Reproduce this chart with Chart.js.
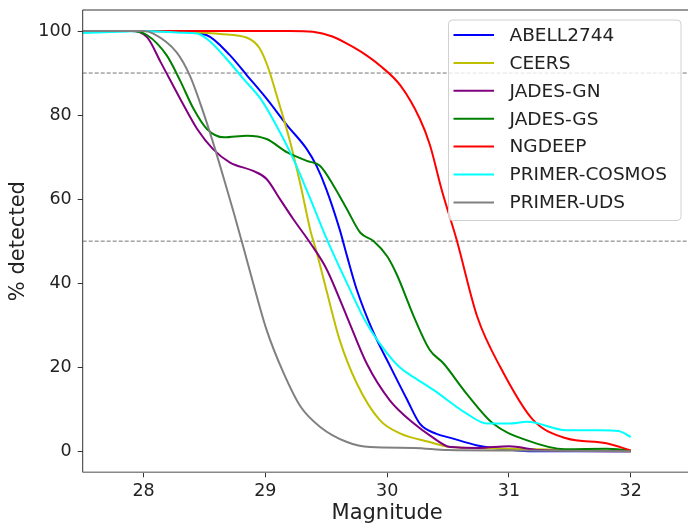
<!DOCTYPE html>
<html>
<head>
<meta charset="utf-8">
<script src="https://cdn.jsdelivr.net/npm/chart.js@4.4.1/dist/chart.umd.min.js"></script>
<style>
  html, body { margin: 0; padding: 0; background: #fff; overflow: hidden; }
  #wrap { width: 700px; height: 524px; }
</style>
</head>
<body>
<div id="wrap"><canvas id="c" width="700" height="524"></canvas></div>
<script>
// Completeness curves per field
const fields = ['ABELL2744', 'CEERS', 'JADES-GN', 'JADES-GS', 'NGDEEP', 'PRIMER-COSMOS', 'PRIMER-UDS'];
const colors = ['#0000ff', '#bfbf00', '#800080', '#008000', '#ff0000', '#00ffff', '#808080'];

const magABELL = [27.5, 28.0, 28.3, 28.52, 28.71, 28.85, 29.01, 29.18, 29.34, 29.42, 29.5, 29.61, 29.67, 29.75, 29.89, 30.02, 30.16, 30.27, 30.4, 30.52, 30.74, 31.0, 31.2, 32.0];
const pctABELL = [100, 100, 99.8, 99, 94.2, 89.4, 83.9, 77.5, 71.9, 67.9, 62.4, 52.8, 46.5, 38.5, 28.1, 20.5, 12.5, 6.5, 4.2, 3.2, 1.4, 0.4, 0, 0];

const magCEERS = [27.5, 28.0, 28.5, 28.63, 28.85, 28.95, 29.02, 29.1, 29.2, 29.29, 29.37, 29.42, 29.5, 29.61, 29.75, 29.94, 30.11, 30.35, 30.52, 31.0, 31.5, 32.0];
const pctCEERS = [100, 100, 99.6, 99.3, 98.4, 96, 91.5, 84, 74, 63.2, 52.5, 47.5, 38.5, 26.5, 16.2, 7.4, 4.2, 2.2, 1.0, 0.6, 0.3, 0];

const magJADESGN = [27.5, 27.9, 28.03, 28.14, 28.3, 28.44, 28.57, 28.71, 28.9, 29.01, 29.12, 29.23, 29.37, 29.5, 29.67, 29.83, 30.02, 30.22, 30.35, 30.52, 30.75, 31.0, 31.25, 32.0];
const pctJADESGN = [100, 100, 98.5, 92.6, 83.9, 76.7, 71.9, 68.7, 66.7, 64.8, 60, 55.2, 49.5, 43.5, 32, 21, 12.2, 6.6, 3.8, 1.0, 0.8, 1.2, 0.3, 0];

const magJADESGS = [27.5, 27.9, 28.03, 28.19, 28.3, 28.41, 28.52, 28.66, 28.85, 29.01, 29.18, 29.34, 29.45, 29.56, 29.67, 29.78, 29.89, 30.0, 30.08, 30.22, 30.35, 30.46, 30.65, 30.87, 31.15, 31.46, 31.8, 32.0];
const pctJADESGS = [100, 100, 99, 94.2, 88.2, 81.5, 76.7, 74.7, 75.1, 74.3, 71.1, 69.1, 67.9, 63.2, 57.6, 52, 50, 46.4, 42, 32, 24.1, 21, 13.8, 6.6, 2.6, 0.5, 0.6, 0.2];

const magNGDEEP = [27.5, 28.0, 28.5, 29.0, 29.2, 29.39, 29.55, 29.67, 29.8, 29.94, 30.11, 30.27, 30.35, 30.45, 30.57, 30.74, 30.93, 31.2, 31.47, 31.8, 32.0];
const pctNGDEEP = [100, 100, 100, 100, 100, 99.8, 98.7, 97, 94.8, 91.8, 87, 79, 73, 62, 50.4, 32, 20, 7.4, 3.1, 1.9, 0.2];

const magCOSMOS = [27.5, 27.8, 28.0, 28.3, 28.44, 28.55, 28.68, 28.82, 28.96, 29.09, 29.23, 29.37, 29.5, 29.67, 29.83, 30.0, 30.11, 30.22, 30.38, 30.65, 30.82, 31.0, 31.15, 31.47, 31.75, 31.9, 32.0];
const pctCOSMOS = [99.5, 99.8, 100, 99.6, 99.4, 97.4, 93.4, 88.6, 83.9, 77.5, 69.5, 60, 50.8, 40, 30.5, 23.3, 19.8, 17.6, 14.6, 9, 6.6, 6.6, 7, 5, 5, 4.8, 3.4];

const magUDS = [27.5, 28.0, 28.08, 28.27, 28.38, 28.49, 28.57, 28.66, 28.74, 28.82, 28.9, 29.01, 29.15, 29.29, 29.45, 29.67, 29.86, 30.22, 30.5, 31.0, 32.0];
const pctUDS = [100, 100, 99.4, 95, 89.4, 80.7, 73.5, 64.8, 56.8, 48.5, 40, 28.9, 18.6, 10.6, 5.8, 2.2, 1.0, 0.8, 0.3, 0.2, 0];

const seriesMag = [magABELL, magCEERS, magJADESGN, magJADESGS, magNGDEEP, magCOSMOS, magUDS];
const seriesPct = [pctABELL, pctCEERS, pctJADESGN, pctJADESGS, pctNGDEEP, pctCOSMOS, pctUDS];

const refLevels = [90, 50];
const xTicks = [28, 29, 30, 31, 32];
const yTicks = [0, 20, 40, 60, 80, 100];
const xRange = [27.5, 32.5];
const yRange = [-5, 105];

const FONT = '"DejaVu Sans", sans-serif';

const datasets = fields.map((name, i) => ({
  label: name,
  data: seriesMag[i].map((m, k) => ({ x: m, y: seriesPct[i][k] })),
  borderColor: colors[i],
  borderWidth: 2,
  pointRadius: 0,
  fill: false,
  cubicInterpolationMode: 'monotone',
  order: fields.length - i, // later fields drawn on top, like matplotlib
}));

refLevels.forEach((lvl) => datasets.push({
  label: '_ref',
  data: [{ x: xRange[0], y: lvl }, { x: xRange[1], y: lvl }],
  borderColor: 'rgba(0,0,0,0.55)',
  borderWidth: 1,
  borderDash: [4, 2],
  pointRadius: 0,
  order: 100,
}));

// frame on all four sides + matplotlib-like legend box
const framePlugin = {
  id: 'frame',
  afterDatasetsDraw(chart) {
    const { ctx, chartArea: a } = chart;
    ctx.save();
    ctx.strokeStyle = '#333';
    ctx.lineWidth = 1;
    ctx.beginPath();
    ctx.moveTo(a.left, a.bottom);
    ctx.lineTo(a.left, a.top);
    ctx.lineTo(a.right, a.top);
    ctx.lineTo(a.right, a.bottom);
    ctx.stroke();
    ctx.strokeStyle = '#888';
    ctx.lineWidth = 1.5;
    ctx.beginPath();
    ctx.moveTo(a.left, a.bottom);
    ctx.lineTo(a.right, a.bottom);
    ctx.stroke();

    // legend
    const bx = 448.5, by = 20, bw = 232.5, bh = 200.5, r = 4;
    ctx.fillStyle = 'rgba(255,255,255,0.8)';
    ctx.strokeStyle = '#d0d0d0';
    ctx.lineWidth = 1;
    ctx.beginPath();
    ctx.roundRect(bx, by, bw, bh, r);
    ctx.fill();
    ctx.stroke();
    ctx.font = '18.5px ' + FONT;
    ctx.textBaseline = 'middle';
    ctx.textAlign = 'left';
    fields.forEach((name, i) => {
      const y = 35 + i * 27.9;
      ctx.strokeStyle = colors[i];
      ctx.lineWidth = 2;
      ctx.beginPath();
      ctx.moveTo(453.5, y);
      ctx.lineTo(494, y);
      ctx.stroke();
      ctx.fillStyle = '#222';
      ctx.fillText(name, 509.5, y + 1);
    });
    ctx.restore();
  },
};

new Chart(document.getElementById('c'), {
  type: 'line',
  data: { datasets },
  options: {
    responsive: false,
    animation: false,
    layout: { padding: { top: 10, right: 8.4, left: 0, bottom: 0 } },
    plugins: { legend: { display: false }, tooltip: { enabled: false } },
    scales: {
      x: {
        type: 'linear',
        min: xRange[0], max: xRange[1],
        afterBuildTicks: (s) => { s.ticks = xTicks.map((v) => ({ value: v })); },
        afterFit: (s) => { s.height = 51.7; s.paddingLeft = 0; s.paddingRight = 0; },
        grid: { display: true, drawOnChartArea: false, drawTicks: true, tickLength: 5, color: '#333' },
        border: { display: false },
        ticks: { color: '#222', font: { family: FONT, size: 17.5 }, padding: 4, maxRotation: 0 },
        title: { display: true, text: 'Magnitude', color: '#222', font: { family: FONT, size: 21, lineHeight: 1 }, padding: { top: 0, bottom: 0 } },
      },
      y: {
        type: 'linear',
        min: yRange[0], max: yRange[1],
        afterBuildTicks: (s) => { s.ticks = yTicks.map((v) => ({ value: v })); },
        afterFit: (s) => { s.width = 82.7; s.paddingTop = 0; s.paddingBottom = 0; },
        grid: { display: true, drawOnChartArea: false, drawTicks: true, tickLength: 5, color: '#333' },
        border: { display: false },
        ticks: { color: '#222', font: { family: FONT, size: 17.5 }, padding: 6 },
        title: { display: true, text: '% detected', color: '#222', font: { family: FONT, size: 21, lineHeight: 1 }, padding: { top: 8, bottom: 0 } },
      },
    },
  },
  plugins: [framePlugin],
});
</script>
</body>
</html>
